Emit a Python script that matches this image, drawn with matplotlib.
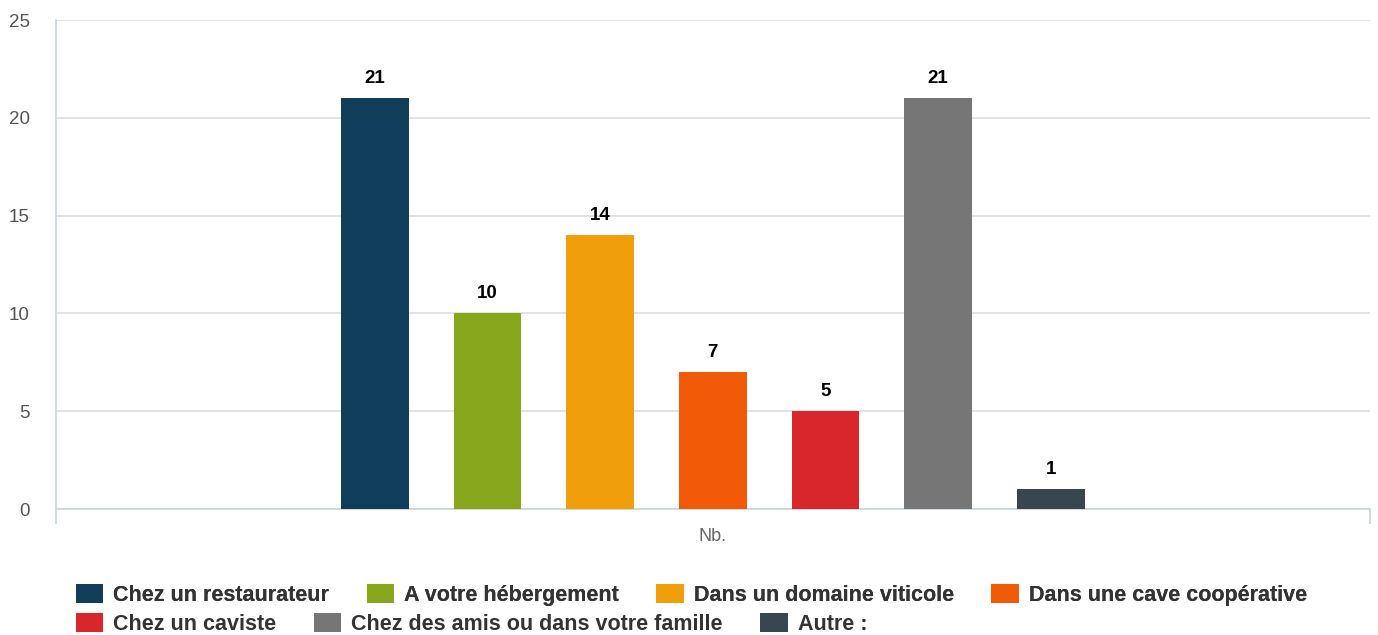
import matplotlib.pyplot as plt
import numpy as np

plt.rcParams["font.family"] = ["Liberation Sans", "DejaVu Sans"]

# data
categories = [
    "Chez un restaurateur",
    "A votre hébergement",
    "Dans un domaine viticole",
    "Dans une cave coopérative",
    "Chez un caviste",
    "Chez des amis ou dans votre famille",
    "Autre :",
]
values = [21, 10, 14, 7, 5, 21, 1]
colors = ["#0f3d5a", "#87a61c", "#f09e09", "#f15a07", "#d9262a", "#767676", "#38464f"]
group_label = "Nb."
y_ticks = [0, 5, 10, 15, 20, 25]

fig = plt.figure(figsize=(13.78, 6.35), dpi=100)
ax = fig.add_axes([0.0406, 0.1984, 0.9534, 0.7701])

x = np.arange(len(values))
bars = []
for i, (v, c, lab) in enumerate(zip(values, colors, categories)):
    b = ax.bar(x[i], v, width=0.6, color=c, label=lab, zorder=3)
    bars.append(b)
    ax.annotate(str(v), (x[i], v), xytext=(0, 8), textcoords="offset points",
                ha="center", va="bottom", fontsize=13.5, fontweight="bold", color="#000000")

center = (len(values) - 1) / 2
ax.set_xlim(center - 5.83, center + 5.83)
ax.set_ylim(0, 25)
ax.set_yticks(y_ticks)
ax.yaxis.grid(True, color="#d9dde2", linewidth=1.2, zorder=0)
ax.tick_params(axis="y", length=0, pad=19, labelsize=13.5, labelcolor="#555555")

# category axis: edge ticks and the group label
ax.set_xticks([center - 5.83, center + 5.83])
ax.set_xticklabels(["", ""])
ax.tick_params(axis="x", which="major", direction="out", length=11, width=1.2, color="#c8d4e0")
ax.set_xticks([center], minor=True)
ax.set_xticklabels([group_label], minor=True)
ax.tick_params(axis="x", which="minor", length=0, pad=14, labelsize=13, labelcolor="#666666")

for s in ["top", "right"]:
    ax.spines[s].set_visible(False)
for s in ["left", "bottom"]:
    ax.spines[s].set_color("#c8d4e0")
    ax.spines[s].set_linewidth(1.2)

handles = [b[0] for b in bars]
legend_kw = dict(frameon=False, handlelength=1.26, handleheight=0.98, handletextpad=0.47,
                 columnspacing=1.75, borderpad=0, borderaxespad=0,
                 prop={"weight": "bold", "size": 15.5}, labelcolor="#333333")
leg1 = fig.legend(handles[:4], categories[:4], ncol=4, loc="center left",
                  bbox_to_anchor=(76 / 1378, 1 - 595 / 635), **legend_kw)
fig.add_artist(leg1)
fig.legend(handles[4:], categories[4:], ncol=3, loc="center left",
           bbox_to_anchor=(76 / 1378, 1 - 624 / 635), **legend_kw)

fig.savefig("out.png", dpi=100)
